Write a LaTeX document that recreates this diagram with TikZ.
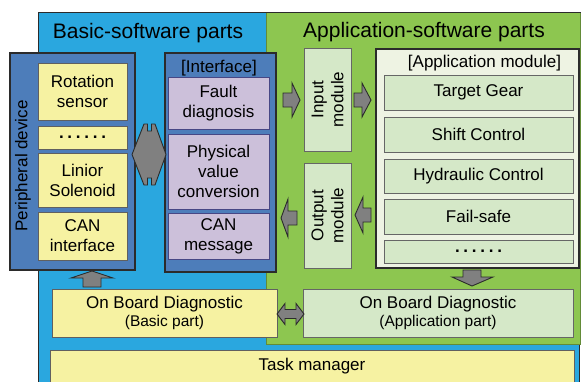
\documentclass[tikz,border=0pt]{standalone}
\usepackage{fontspec}
\setmainfont{Liberation Sans}
\definecolor{bluebg}{HTML}{2AA7DF}
\definecolor{greenbg}{HTML}{8DC650}
\definecolor{darkblue}{HTML}{4D7DBA}
\definecolor{ylw}{HTML}{F6F2A2}
\definecolor{purp}{HTML}{CCC0DA}
\definecolor{lgreen}{HTML}{D5E8C8}
\definecolor{appfill}{HTML}{EEF3E3}
\definecolor{arrgray}{HTML}{808080}
\definecolor{edge}{HTML}{2B2B2B}
\newcommand\sixdots{\makebox[47pt][s]{\textbf{.}\hfil\textbf{.}\hfil\textbf{.}\hfil\textbf{.}\hfil\textbf{.}\hfil\textbf{.}}}
\begin{document}
\begin{tikzpicture}[x=1pt,y=-1pt,
  txt/.style={font=\fontsize{17}{20}\selectfont, align=center, text=black},
  base/.style={txt, inner sep=0pt, outer sep=0pt, line width=0.8pt},
  ybox/.style={base, draw=gray!75!black, fill=ylw},
  pbox/.style={base, draw=gray!70!blue!80!black, fill=purp},
  gbox/.style={base, draw=gray!80!black, fill=lgreen},
  dbox/.style={base, draw=edge, line width=1.1pt, fill=darkblue},
  abox/.style={base, draw=edge, line width=1.1pt, fill=appfill},
  blockarrow/.style={fill=arrgray, draw=edge, line width=0.9pt, line join=miter},
  title/.style={font=\fontsize{21}{24}\selectfont, text=black, inner sep=0pt}
]
\useasboundingbox (0,0) rectangle (581,381);
\clip (0,0) rectangle (581,381);
\fill[white] (0,0) rectangle (581,381);

% regions
\node[base, draw=edge, fill=bluebg, minimum width=541pt, minimum height=383pt] (basic) at (308.5,203.5) {};
\node[base, draw=greenbg!70!black, line width=0.6pt, fill=greenbg, minimum width=314pt, minimum height=332pt] (appl) at (423,178) {};
\draw[edge, line width=1pt] (38,12) -- (581,12);
\node[title] (tbasic) at (148,33) {Basic-software parts};
\node[title] (tappl) at (424,32) {Application-software parts};

% peripheral device
\node[dbox, minimum width=125pt, minimum height=217pt] (periph) at (72.5,161.5) {};
\node[txt, rotate=90] (periphlbl) at (23,166) {Peripheral device};
\node[ybox, minimum width=89pt, minimum height=57pt] (rot) at (82.5,91.5) {Rotation\\sensor};
\node[ybox, minimum width=89pt, minimum height=23pt] (dots1) at (82.5,137.5) {\sixdots};
\node[ybox, minimum width=89pt, minimum height=54pt] (lin) at (82.5,180) {Linior\\Solenoid};
\node[ybox, minimum width=89pt, minimum height=48pt] (can1) at (82.5,236) {CAN\\interface};

% interface
\node[dbox, minimum width=111pt, minimum height=219pt] (iface) at (220.5,162.5) {};
\node[txt, inner sep=0pt] (ifacelbl) at (219,68) {[Interface]};
\node[pbox, minimum width=101pt, minimum height=52pt] (fault) at (218.5,103) {Fault\\diagnosis};
\node[pbox, minimum width=101pt, minimum height=75pt] (phys) at (218.5,171.5) {Physical\\value\\conversion};
\node[pbox, minimum width=101pt, minimum height=46pt] (canm) at (218.5,236) {CAN\\message};

% input / output modules
\node[gbox, minimum width=47pt, minimum height=103pt] (input) at (327.5,99.5) {};
\node[txt, rotate=90, inner sep=0pt] (inputlbl) at (input.center) {Input\\module};
\node[gbox, minimum width=47pt, minimum height=105pt] (output) at (327.5,215.5) {};
\node[txt, rotate=90, inner sep=0pt] (outputlbl) at (output.center) {Output\\module};

% application module
\node[abox, minimum width=203pt, minimum height=219pt] (appmod) at (477.5,158.5) {};
\node[txt, inner sep=0pt] (appmodlbl) at (484.5,63) {[Application module]};
\node[gbox, minimum width=189pt, minimum height=35pt] (tg) at (478.5,92.5) {Target Gear};
\node[gbox, minimum width=189pt, minimum height=35pt] (sc) at (478.5,134.5) {Shift Control};
\node[gbox, minimum width=189pt, minimum height=34pt] (hc) at (478.5,176) {Hydraulic Control};
\node[gbox, minimum width=189pt, minimum height=35pt] (fs) at (478.5,216.5) {Fail-safe};
\node[gbox, minimum width=189pt, minimum height=23pt] (dots2) at (478.5,251.5) {\sixdots};

% on board diagnostic
\node[ybox, minimum width=225pt, minimum height=48pt] (obdb) at (164.5,313) {On Board Diagnostic\\[-2pt]{\fontsize{15.5}{17}\selectfont (Basic part)}};
\node[gbox, minimum width=270pt, minimum height=48pt] (obda) at (438,313) {On Board Diagnostic\\[-2pt]{\fontsize{15.5}{17}\selectfont (Application part)}};

% task manager
\node[ybox, minimum width=524pt, minimum height=32pt] (task) at (312,366) {Task manager};

% block arrows
% hexagonal double arrow periph <-> interface
\filldraw[blockarrow] (132,154.5) -- (144,124) -- (147.5,124) -- (147.5,131) -- (151.5,131) -- (151.5,124) -- (155,124) -- (166,154.5)
  -- (155,185) -- (151.5,185) -- (151.5,178) -- (147.5,178) -- (147.5,185) -- (144,185) -- cycle;
% right arrows (into input module, into application module)
\filldraw[blockarrow] (283,93) -- (292,93) -- (292,83) -- (300,100) -- (292,117) -- (292,107) -- (283,107) -- cycle;
\filldraw[blockarrow] (354,93) -- (362,93) -- (362,83) -- (371,100) -- (362,117) -- (362,107) -- (354,107) -- cycle;
% left arrows (out of application module, out of output module)
\filldraw[blockarrow] (297,211) -- (288,211) -- (288,199) -- (281,218) -- (288,237) -- (288,225) -- (297,225) -- cycle;
\filldraw[blockarrow] (371,208) -- (363,208) -- (363,197) -- (355,215) -- (363,233) -- (363,222) -- (371,222) -- cycle;
% down arrow (application module -> OBD application)
\filldraw[blockarrow] (463,270) -- (463,277) -- (452,277) -- (472,286) -- (493,277) -- (481,277) -- (481,270) -- cycle;
% up arrow (OBD basic -> peripheral)
\filldraw[blockarrow] (83,287) -- (83,278) -- (71,278) -- (92,271) -- (113,278) -- (101,278) -- (101,287) -- cycle;
% horizontal double arrow between OBDs
\filldraw[blockarrow] (277,314) -- (285,303.5) -- (285,309.5) -- (296,309.5) -- (296,303.5) -- (304,314)
  -- (296,324.5) -- (296,318.5) -- (285,318.5) -- (285,324.5) -- cycle;
\end{tikzpicture}
\end{document}
